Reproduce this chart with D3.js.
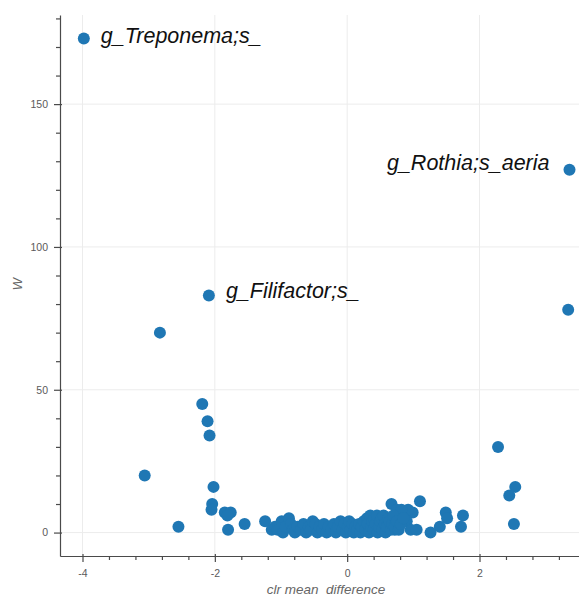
<!DOCTYPE html>
<html>
<head>
<meta charset="utf-8">
<script src="https://cdn.jsdelivr.net/npm/d3@7"></script>
<style>
  body { margin: 0; background: #fff; }
  svg { display: block; }
  text { font-family: "Liberation Sans", Arial, Helvetica, sans-serif; }
</style>
</head>
<body>
<svg id="chart" width="579" height="597"></svg>
<script>
// ANCOM volcano plot: clr mean difference vs. W statistic per taxon.
const clrMeanDiff = [
  -3.98, 3.36, -2.09, 3.34, -2.83, -2.19, -2.11, -2.08, -3.06, -2.02,
  -2.04, -2.05, -2.55, -1.85, -1.76, -1.81, -1.80, -1.55, 2.28, 2.54,
  2.45, 2.52, 1.75, 1.72, 1.49, 1.51, 1.40, 1.26, 1.10, 0.99,
  0.92, 0.90, 0.96, 1.05, 0.67, 0.75, 0.82, 0.72,
  -1.24, -1.14, -1.09, -1.05, -0.99, -0.97, -0.93, -0.88, -0.85, -0.82,
  -0.79, -0.75, -0.70, -0.66, -0.62, -0.58, -0.55, -0.52, -0.48, -0.45,
  -0.42, -0.38, -0.35, -0.31, -0.28, -0.24, -0.20, -0.17, -0.14, -0.10,
  -0.07, -0.04, -0.02, 0.01, 0.03, 0.05, 0.08, 0.10, 0.12, 0.15,
  0.18, 0.20, 0.22, 0.25, 0.27, 0.30, 0.31, 0.33, 0.35, 0.36,
  0.38, 0.40, 0.41, 0.43, 0.45, 0.46, 0.48, 0.50, 0.52, 0.53,
  0.55, 0.57, 0.58, 0.60, 0.62, 0.64, 0.66, 0.68, 0.70, 0.72,
  0.75, 0.78, 0.81, 0.85
];
const wStat = [
  173, 127, 83, 78, 70, 45, 39, 34, 20, 16,
  10, 8, 2, 7, 7, 6, 1, 3, 30, 16,
  13, 3, 6, 2, 7, 5, 2, 0, 11, 7,
  8, 4, 1, 1, 10, 8, 8, 1,
  4, 1, 2, 1, 4, 0, 2, 5, 3, 1,
  0, 2, 1, 3, 0, 2, 1, 4, 3, 0,
  2, 1, 3, 0, 2, 1, 3, 0, 2, 4,
  1, 3, 0, 2, 4, 1, 3, 0, 2, 1,
  3, 0, 2, 4, 1, 5, 3, 0, 6, 2,
  4, 1, 5, 3, 6, 0, 2, 4, 5, 1,
  6, 3, 0, 2, 5, 4, 1, 3, 6, 2,
  4, 1, 3, 5
];

// Taxa that get a name next to their point (index into the arrays above).
const annotatedTaxa = ["g_Treponema;s_", "g_Rothia;s_aeria", "g_Filifactor;s_"];
const annotatedIndex = [0, 1, 2];

const xTicks = [-4, -2, 0, 2];
const yTicks = [0, 50, 100, 150];
const xTitle = "clr mean  difference";
const yTitle = "W";

// ---- layout ----
const svg = d3.select("#chart");
const plotLeft = 60, plotRight = 592, plotTop = 15, plotBottom = 556;

const x = d3.scaleLinear().domain([-4.34, 3.70]).range([plotLeft, plotRight]);
const y = d3.scaleLinear().domain([-8.2, 181.2]).range([plotBottom, plotTop]);

const axisColor = "#4a4a4a";
const labelColor = "#5a5a5a";

// grid
const grid = svg.append("g");
grid.selectAll("line.gx").data(xTicks).join("line")
  .attr("x1", d => x(d)).attr("x2", d => x(d))
  .attr("y1", plotTop).attr("y2", plotBottom)
  .attr("stroke", "#ececec").attr("stroke-width", 1);
grid.selectAll("line.gy").data(yTicks).join("line")
  .attr("x1", plotLeft).attr("x2", plotRight)
  .attr("y1", d => y(d)).attr("y2", d => y(d))
  .attr("stroke", "#ececec").attr("stroke-width", 1);

// minor ticks every fifth of a major step
const xMinor = d3.range(-4.4, 3.7, 0.4).map(v => +v.toFixed(2))
  .filter(v => v >= -4.34 && v <= 3.70 && !xTicks.includes(v));
const yMinor = d3.range(-10, 181, 10).filter(v => v >= -8.2 && !yTicks.includes(v));

const fmt = d => String(d);

const xAxis = svg.append("g").attr("transform", `translate(0,${plotBottom})`)
  .call(d3.axisBottom(x).tickValues(xTicks).tickSizeInner(6).tickSizeOuter(0)
    .tickPadding(8).tickFormat(fmt));
const xAxisMinor = svg.append("g").attr("transform", `translate(0,${plotBottom})`)
  .call(d3.axisBottom(x).tickValues(xMinor).tickSizeInner(4).tickSizeOuter(0)
    .tickFormat(""));
xAxisMinor.select(".domain").remove();

const yAxis = svg.append("g").attr("transform", `translate(${plotLeft},0)`)
  .call(d3.axisLeft(y).tickValues(yTicks).tickSizeInner(6).tickSizeOuter(0)
    .tickPadding(6).tickFormat(fmt));
const yAxisMinor = svg.append("g").attr("transform", `translate(${plotLeft},0)`)
  .call(d3.axisLeft(y).tickValues(yMinor).tickSizeInner(4).tickSizeOuter(0)
    .tickFormat(""));
yAxisMinor.select(".domain").remove();

// major ticks poke slightly into the plot area
xAxis.selectAll(".tick line").attr("y1", -2);
yAxis.selectAll(".tick line").attr("x1", 2);

[xAxis, xAxisMinor, yAxis, yAxisMinor].forEach(g => {
  g.selectAll(".domain").attr("stroke", axisColor).attr("stroke-width", 1.2);
  g.selectAll(".tick line").attr("stroke", axisColor).attr("stroke-width", 1.2);
  g.selectAll(".tick text")
    .attr("fill", labelColor)
    .style("font-size", "10.5px")
    .style("font-family", "\"Liberation Sans\", Arial, sans-serif");
});

// axis titles
svg.append("text")
  .attr("x", 326).attr("y", 594)
  .attr("text-anchor", "middle")
  .attr("fill", "#666")
  .style("font-size", "13.5px").style("font-style", "italic")
  .style("white-space", "pre")
  .text(xTitle);

svg.append("text")
  .attr("transform", "translate(22,284) rotate(-90)")
  .attr("text-anchor", "middle")
  .attr("fill", "#666")
  .style("font-size", "13px").style("font-style", "italic")
  .text(yTitle);

// points
const points = clrMeanDiff.map((v, i) => ({ x: v, w: wStat[i] }));
svg.append("g").selectAll("circle").data(points).join("circle")
  .attr("cx", d => x(d.x))
  .attr("cy", d => y(d.w))
  .attr("r", 6)
  .attr("fill", "#1f77b4");

// taxon names
const labelPlacement = [
  { dx: 17, dy: 4.5, anchor: "start" },
  { dx: -20, dy: 0, anchor: "end" },
  { dx: 17, dy: 3, anchor: "start" }
];
svg.append("g").selectAll("text").data(annotatedTaxa).join("text")
  .attr("x", (d, i) => x(clrMeanDiff[annotatedIndex[i]]) + labelPlacement[i].dx)
  .attr("y", (d, i) => y(wStat[annotatedIndex[i]]) + labelPlacement[i].dy)
  .attr("text-anchor", (d, i) => labelPlacement[i].anchor)
  .attr("fill", "#111")
  .style("font-size", "21.5px").style("font-style", "italic")
  .text(d => d);
</script>
</body>
</html>
